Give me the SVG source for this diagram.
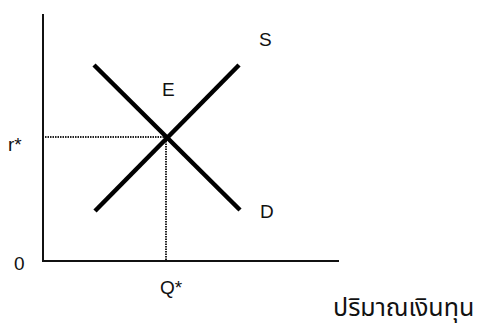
<svg xmlns="http://www.w3.org/2000/svg" width="483" height="328" viewBox="0 0 483 328">
<style>
.lbl{font-family:"Liberation Sans",Arial,sans-serif;font-size:19px;fill:#111}
.curve{stroke:#000;stroke-width:4.5;stroke-linecap:butt;fill:none}
.axis{stroke:#111;stroke-width:2;fill:none}
.dot{stroke:#222;stroke-width:2;stroke-dasharray:1.5 1;fill:none}
.thai{font-family:"Noto Sans Thai","Noto Sans Thai Looped","Tahoma","Noto Sans",sans-serif;font-size:25px;fill:#111}
</style>
<rect width="483" height="328" fill="#fff"/>
<g id="axes">
<path class="axis" d="M43 14 V261 H339"/>
</g>
<g id="connectors">
<path class="dot" d="M45 137 H166 V261"/>
</g>
<g id="supply">
<line class="curve" x1="95" y1="211" x2="239" y2="65"/>
<text class="lbl" x="259" y="46">S</text>
</g>
<g id="demand">
<line class="curve" x1="94" y1="65" x2="240" y2="210"/>
<text class="lbl" x="260" y="218">D</text>
</g>
<g id="equilibrium">
<text class="lbl" x="162" y="96">E</text>
</g>
<g id="labels">
<text class="lbl" x="8" y="151">r*</text>
<text class="lbl" x="14" y="270">0</text>
<text class="lbl" x="160" y="294">Q*</text>
<text class="thai" x="333" y="316">ปริมาณเงินทุน</text>
</g>
</svg>
